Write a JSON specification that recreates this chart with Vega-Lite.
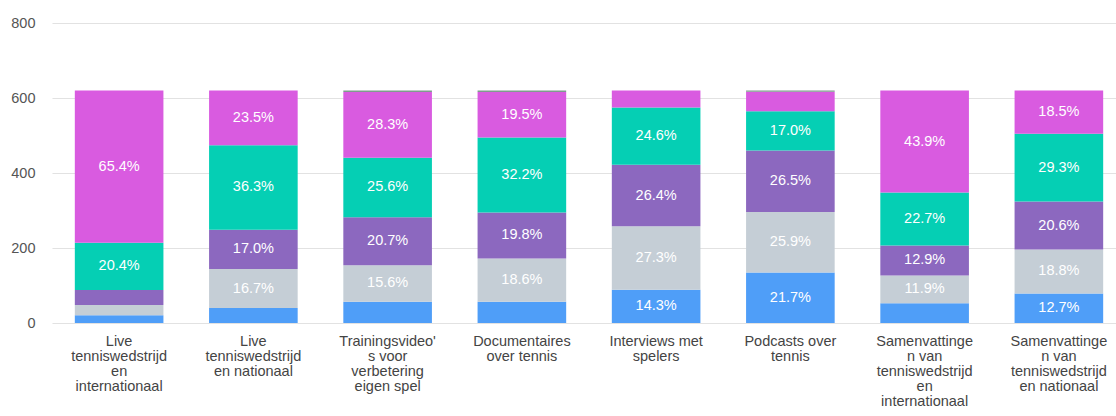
{
  "$schema": "https://vega.github.io/schema/vega-lite/v6.json",
  "width": 1074,
  "height": 300,
  "autosize": "none",
  "padding": {"left": 52, "top": 23, "right": 0, "bottom": 93},
  "background": "white",
  "config": {"view": {"stroke": null}, "font": "Liberation Sans"},
  "data": {"values": [
    {"cat": "Live\ntenniswedstrijd\nen\ninternationaal", "s": "s1", "o": 1, "v": 21, "label": ""},
    {"cat": "Live\ntenniswedstrijd\nen\ninternationaal", "s": "s2", "o": 2, "v": 27, "label": ""},
    {"cat": "Live\ntenniswedstrijd\nen\ninternationaal", "s": "s3", "o": 3, "v": 40, "label": ""},
    {"cat": "Live\ntenniswedstrijd\nen\ninternationaal", "s": "s4", "o": 4, "v": 126, "label": "20.4%"},
    {"cat": "Live\ntenniswedstrijd\nen\ninternationaal", "s": "s5", "o": 5, "v": 406, "label": "65.4%"},
    {"cat": "Live\ntenniswedstrijd\nen nationaal", "s": "s1", "o": 1, "v": 40, "label": ""},
    {"cat": "Live\ntenniswedstrijd\nen nationaal", "s": "s2", "o": 2, "v": 104, "label": "16.7%"},
    {"cat": "Live\ntenniswedstrijd\nen nationaal", "s": "s3", "o": 3, "v": 105, "label": "17.0%"},
    {"cat": "Live\ntenniswedstrijd\nen nationaal", "s": "s4", "o": 4, "v": 225, "label": "36.3%"},
    {"cat": "Live\ntenniswedstrijd\nen nationaal", "s": "s5", "o": 5, "v": 146, "label": "23.5%"},
    {"cat": "Trainingsvideo'\ns voor\nverbetering\neigen spel", "s": "s1", "o": 1, "v": 57, "label": ""},
    {"cat": "Trainingsvideo'\ns voor\nverbetering\neigen spel", "s": "s2", "o": 2, "v": 97, "label": "15.6%"},
    {"cat": "Trainingsvideo'\ns voor\nverbetering\neigen spel", "s": "s3", "o": 3, "v": 128, "label": "20.7%"},
    {"cat": "Trainingsvideo'\ns voor\nverbetering\neigen spel", "s": "s4", "o": 4, "v": 159, "label": "25.6%"},
    {"cat": "Trainingsvideo'\ns voor\nverbetering\neigen spel", "s": "s5", "o": 5, "v": 175, "label": "28.3%"},
    {"cat": "Trainingsvideo'\ns voor\nverbetering\neigen spel", "s": "s6", "o": 6, "v": 4, "label": ""},
    {"cat": "Documentaires\nover tennis", "s": "s1", "o": 1, "v": 57, "label": ""},
    {"cat": "Documentaires\nover tennis", "s": "s2", "o": 2, "v": 115, "label": "18.6%"},
    {"cat": "Documentaires\nover tennis", "s": "s3", "o": 3, "v": 123, "label": "19.8%"},
    {"cat": "Documentaires\nover tennis", "s": "s4", "o": 4, "v": 200, "label": "32.2%"},
    {"cat": "Documentaires\nover tennis", "s": "s5", "o": 5, "v": 121, "label": "19.5%"},
    {"cat": "Documentaires\nover tennis", "s": "s6", "o": 6, "v": 4, "label": ""},
    {"cat": "Interviews met\nspelers", "s": "s1", "o": 1, "v": 89, "label": "14.3%"},
    {"cat": "Interviews met\nspelers", "s": "s2", "o": 2, "v": 169, "label": "27.3%"},
    {"cat": "Interviews met\nspelers", "s": "s3", "o": 3, "v": 164, "label": "26.4%"},
    {"cat": "Interviews met\nspelers", "s": "s4", "o": 4, "v": 153, "label": "24.6%"},
    {"cat": "Interviews met\nspelers", "s": "s5", "o": 5, "v": 45, "label": ""},
    {"cat": "Podcasts over\ntennis", "s": "s1", "o": 1, "v": 135, "label": "21.7%"},
    {"cat": "Podcasts over\ntennis", "s": "s2", "o": 2, "v": 161, "label": "25.9%"},
    {"cat": "Podcasts over\ntennis", "s": "s3", "o": 3, "v": 164, "label": "26.5%"},
    {"cat": "Podcasts over\ntennis", "s": "s4", "o": 4, "v": 105, "label": "17.0%"},
    {"cat": "Podcasts over\ntennis", "s": "s5", "o": 5, "v": 52, "label": ""},
    {"cat": "Podcasts over\ntennis", "s": "s6", "o": 6, "v": 3, "label": ""},
    {"cat": "Samenvattinge\nn van\ntenniswedstrijd\nen\ninternationaal", "s": "s1", "o": 1, "v": 53, "label": ""},
    {"cat": "Samenvattinge\nn van\ntenniswedstrijd\nen\ninternationaal", "s": "s2", "o": 2, "v": 74, "label": "11.9%"},
    {"cat": "Samenvattinge\nn van\ntenniswedstrijd\nen\ninternationaal", "s": "s3", "o": 3, "v": 80, "label": "12.9%"},
    {"cat": "Samenvattinge\nn van\ntenniswedstrijd\nen\ninternationaal", "s": "s4", "o": 4, "v": 141, "label": "22.7%"},
    {"cat": "Samenvattinge\nn van\ntenniswedstrijd\nen\ninternationaal", "s": "s5", "o": 5, "v": 272, "label": "43.9%"},
    {"cat": "Samenvattinge\nn van\ntenniswedstrijd\nen nationaal", "s": "s1", "o": 1, "v": 79, "label": "12.7%"},
    {"cat": "Samenvattinge\nn van\ntenniswedstrijd\nen nationaal", "s": "s2", "o": 2, "v": 117, "label": "18.8%"},
    {"cat": "Samenvattinge\nn van\ntenniswedstrijd\nen nationaal", "s": "s3", "o": 3, "v": 128, "label": "20.6%"},
    {"cat": "Samenvattinge\nn van\ntenniswedstrijd\nen nationaal", "s": "s4", "o": 4, "v": 181, "label": "29.3%"},
    {"cat": "Samenvattinge\nn van\ntenniswedstrijd\nen nationaal", "s": "s5", "o": 5, "v": 115, "label": "18.5%"}
  ]},
  "encoding": {
    "x": {
      "field": "cat", "type": "nominal", "sort": null,
      "scale": {"paddingInner": 0.34, "paddingOuter": 0.17},
      "axis": {
        "title": null, "labelAngle": 0, "domain": false, "ticks": false,
        "labelExpr": "split(datum.label, '\\n')",
        "labelFontSize": 14.5, "labelLineHeight": 15, "labelColor": "#444444",
        "labelPadding": 11, "labelBaseline": "top", "labelFont": "Liberation Sans"
      }
    },
    "y": {
      "field": "v", "type": "quantitative", "stack": "zero",
      "scale": {"domain": [0, 800]},
      "axis": {
        "title": null, "values": [0, 200, 400, 600, 800], "domain": false, "ticks": false,
        "labelPadding": 17, "labelFontSize": 14.5, "labelColor": "#555555",
        "gridColor": "#e2e2e2", "gridWidth": 1.2, "labelFont": "Liberation Sans"
      }
    },
    "order": {"field": "o", "type": "quantitative"}
  },
  "layer": [
    {
      "mark": {"type": "bar"},
      "encoding": {
        "color": {
          "field": "s", "type": "nominal", "legend": null,
          "scale": {
            "domain": ["s1", "s2", "s3", "s4", "s5", "s6"],
            "range": ["#4f9ef8", "#c5ced6", "#8c68bf", "#05cfb4", "#d95be0", "#7f9c8e"]
          }
        }
      }
    },
    {
      "mark": {"type": "text", "color": "white", "fontSize": 14.5, "font": "Liberation Sans", "baseline": "middle"},
      "encoding": {
        "y": {"field": "v", "type": "quantitative", "stack": "zero", "bandPosition": 0.5},
        "text": {"field": "label", "type": "nominal"}
      }
    }
  ]
}
